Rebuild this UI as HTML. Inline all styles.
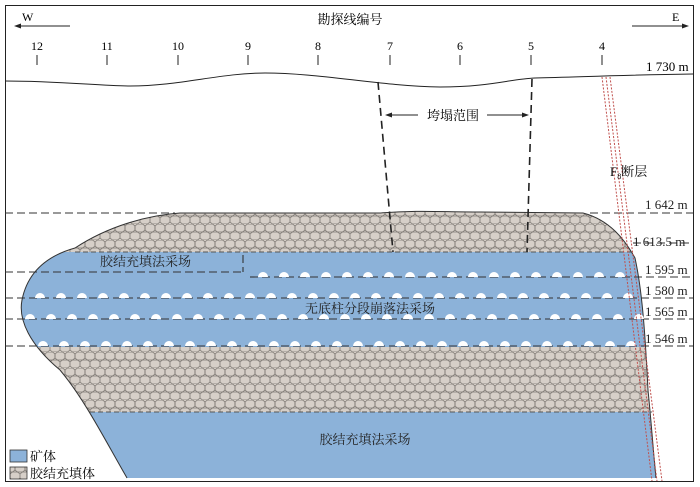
<!DOCTYPE html>
<html><head><meta charset="utf-8"><style>
html,body{margin:0;padding:0;background:#fff;}
svg{display:block;font-family:"Liberation Serif","Noto Serif CJK SC",serif;}
</style></head><body>
<svg width="700" height="487" viewBox="0 0 700 487" xmlns="http://www.w3.org/2000/svg">
<defs>
<pattern id="hex" width="10" height="16" patternUnits="userSpaceOnUse">
<rect width="10" height="16" fill="#d6cfc8"/>
<path d="M0,2 L2.5,0 L7.5,0 L10,2 L10,6 L7.5,8 L2.5,8 L0,6 Z" fill="none" stroke="#7d7873" stroke-width="0.8" transform="translate(-5,0)"/>
<path d="M0,2 L2.5,0 L7.5,0 L10,2 L10,6 L7.5,8 L2.5,8 L0,6 Z" fill="none" stroke="#7d7873" stroke-width="0.8" transform="translate(5,0)"/>
<path d="M0,2 L2.5,0 L7.5,0 L10,2 L10,6 L7.5,8 L2.5,8 L0,6 Z" fill="none" stroke="#7d7873" stroke-width="0.8" transform="translate(0,8)"/>
</pattern>
<clipPath id="ore"><path d="M127,478 C105,440 85,400 60,370 C30,345 18,320 22,300 C28,270 50,255 75,248 C110,225 150,215 180,213 L380,213 C420,210 440,212 480,212 L583,213 C610,220 625,240 635,258 C642,290 645,330 648,390 C652,430 654,460 656,478 Z"/></clipPath>
</defs>
<rect x="5.5" y="5.5" width="688" height="476" fill="none" stroke="#222" stroke-width="1"/>
<text x="350" y="24" font-size="13" text-anchor="middle">勘探线编号</text>
<text x="22" y="21" font-size="12">W</text>
<line x1="18" y1="26" x2="70" y2="26" stroke="#222"/><path d="M14,26 L21,23.5 L21,28.5Z" fill="#222"/>
<text x="672" y="21" font-size="12">E</text>
<line x1="632" y1="26" x2="684" y2="26" stroke="#222"/><path d="M689,26 L682,23.5 L682,28.5Z" fill="#222"/>
<g font-size="12" text-anchor="middle">
<text x="37" y="50">12</text><text x="107" y="50">11</text><text x="178" y="50">10</text><text x="248" y="50">9</text><text x="318" y="50">8</text><text x="390" y="50">7</text><text x="460" y="50">6</text><text x="531" y="50">5</text><text x="602" y="50">4</text>
</g>
<g stroke="#222" stroke-width="1">
<line x1="37" y1="55" x2="37" y2="65"/><line x1="107" y1="55" x2="107" y2="65"/><line x1="178" y1="55" x2="178" y2="65"/><line x1="248" y1="55" x2="248" y2="65"/><line x1="318" y1="55" x2="318" y2="65"/><line x1="390" y1="55" x2="390" y2="65"/><line x1="460" y1="55" x2="460" y2="65"/><line x1="531" y1="55" x2="531" y2="65"/><line x1="602" y1="55" x2="602" y2="65"/>
</g>
<path d="M5,81 C60,81 100,86 130,86 C180,86 220,73 265,73 C320,73 380,86 440,87 C490,87 510,79 535,78 C580,77 620,75 693,74" fill="none" stroke="#222" stroke-width="1"/>
<text x="646" y="71" font-size="13">1 730 m</text>
<g clip-path="url(#ore)">
<rect x="0" y="200" width="700" height="290" fill="url(#hex)"/>
<rect x="0" y="252" width="700" height="95" fill="#8cb2d9"/>
<rect x="0" y="412" width="700" height="80" fill="#8cb2d9"/>
</g>
<path d="M127,478 C105,440 85,400 60,370 C30,345 18,320 22,300 C28,270 50,255 75,248 C110,225 150,215 180,213 L380,213 C420,210 440,212 480,212 L583,213 C610,220 625,240 635,258 C642,290 645,330 648,390 C652,430 654,460 656,478" fill="none" stroke="#333" stroke-width="1"/>
<line x1="90" y1="412" x2="652" y2="412" stroke="#555" stroke-dasharray="5,3"/>
<line x1="75" y1="252" x2="632" y2="252" stroke="#555" stroke-dasharray="5,3"/>
<g stroke="#333" stroke-width="1.1" stroke-dasharray="8,4" fill="none">
<line x1="5" y1="213" x2="175" y2="213"/><line x1="590" y1="213" x2="693" y2="213"/>
<line x1="633" y1="243" x2="693" y2="243"/>
<line x1="5" y1="272" x2="243" y2="272"/><line x1="243" y1="255" x2="243" y2="272"/>
<line x1="250" y1="277" x2="693" y2="277"/>
<line x1="5" y1="298" x2="693" y2="298"/>
<line x1="5" y1="319" x2="693" y2="319"/>
<line x1="5" y1="346" x2="693" y2="346"/>
</g>
<g fill="#fff" stroke="none">
<path d="M258,277a5,5 0 0 1 10,0z M279,277a5,5 0 0 1 10,0z M300,277a5,5 0 0 1 10,0z M321,277a5,5 0 0 1 10,0z M342,277a5,5 0 0 1 10,0z M363,277a5,5 0 0 1 10,0z M384,277a5,5 0 0 1 10,0z M405,277a5,5 0 0 1 10,0z M426,277a5,5 0 0 1 10,0z M447,277a5,5 0 0 1 10,0z M468,277a5,5 0 0 1 10,0z M489,277a5,5 0 0 1 10,0z M510,277a5,5 0 0 1 10,0z M531,277a5,5 0 0 1 10,0z M552,277a5,5 0 0 1 10,0z M573,277a5,5 0 0 1 10,0z M594,277a5,5 0 0 1 10,0z M615,277a5,5 0 0 1 10,0z"/>
<path d="M35,298a5,5 0 0 1 10,0z M56,298a5,5 0 0 1 10,0z M77,298a5,5 0 0 1 10,0z M98,298a5,5 0 0 1 10,0z M119,298a5,5 0 0 1 10,0z M140,298a5,5 0 0 1 10,0z M161,298a5,5 0 0 1 10,0z M182,298a5,5 0 0 1 10,0z M203,298a5,5 0 0 1 10,0z M224,298a5,5 0 0 1 10,0z M245,298a5,5 0 0 1 10,0z M266,298a5,5 0 0 1 10,0z M287,298a5,5 0 0 1 10,0z M308,298a5,5 0 0 1 10,0z M329,298a5,5 0 0 1 10,0z M350,298a5,5 0 0 1 10,0z M371,298a5,5 0 0 1 10,0z M392,298a5,5 0 0 1 10,0z M413,298a5,5 0 0 1 10,0z M434,298a5,5 0 0 1 10,0z M455,298a5,5 0 0 1 10,0z M476,298a5,5 0 0 1 10,0z M497,298a5,5 0 0 1 10,0z M518,298a5,5 0 0 1 10,0z M539,298a5,5 0 0 1 10,0z M560,298a5,5 0 0 1 10,0z M581,298a5,5 0 0 1 10,0z M602,298a5,5 0 0 1 10,0z M623,298a5,5 0 0 1 10,0z"/>
<path d="M25,319a5,5 0 0 1 10,0z M46,319a5,5 0 0 1 10,0z M67,319a5,5 0 0 1 10,0z M88,319a5,5 0 0 1 10,0z M109,319a5,5 0 0 1 10,0z M130,319a5,5 0 0 1 10,0z M151,319a5,5 0 0 1 10,0z M172,319a5,5 0 0 1 10,0z M193,319a5,5 0 0 1 10,0z M214,319a5,5 0 0 1 10,0z M235,319a5,5 0 0 1 10,0z M256,319a5,5 0 0 1 10,0z M277,319a5,5 0 0 1 10,0z M298,319a5,5 0 0 1 10,0z M319,319a5,5 0 0 1 10,0z M340,319a5,5 0 0 1 10,0z M361,319a5,5 0 0 1 10,0z M382,319a5,5 0 0 1 10,0z M403,319a5,5 0 0 1 10,0z M424,319a5,5 0 0 1 10,0z M445,319a5,5 0 0 1 10,0z M466,319a5,5 0 0 1 10,0z M487,319a5,5 0 0 1 10,0z M508,319a5,5 0 0 1 10,0z M529,319a5,5 0 0 1 10,0z M550,319a5,5 0 0 1 10,0z M571,319a5,5 0 0 1 10,0z M592,319a5,5 0 0 1 10,0z M613,319a5,5 0 0 1 10,0z M634,319a5,5 0 0 1 10,0z"/>
<path d="M38,346a5,5 0 0 1 10,0z M59,346a5,5 0 0 1 10,0z M80,346a5,5 0 0 1 10,0z M101,346a5,5 0 0 1 10,0z M122,346a5,5 0 0 1 10,0z M143,346a5,5 0 0 1 10,0z M164,346a5,5 0 0 1 10,0z M185,346a5,5 0 0 1 10,0z M206,346a5,5 0 0 1 10,0z M227,346a5,5 0 0 1 10,0z M248,346a5,5 0 0 1 10,0z M269,346a5,5 0 0 1 10,0z M290,346a5,5 0 0 1 10,0z M311,346a5,5 0 0 1 10,0z M332,346a5,5 0 0 1 10,0z M353,346a5,5 0 0 1 10,0z M374,346a5,5 0 0 1 10,0z M395,346a5,5 0 0 1 10,0z M416,346a5,5 0 0 1 10,0z M437,346a5,5 0 0 1 10,0z M458,346a5,5 0 0 1 10,0z M479,346a5,5 0 0 1 10,0z M500,346a5,5 0 0 1 10,0z M521,346a5,5 0 0 1 10,0z M542,346a5,5 0 0 1 10,0z M563,346a5,5 0 0 1 10,0z M584,346a5,5 0 0 1 10,0z M605,346a5,5 0 0 1 10,0z M626,346a5,5 0 0 1 10,0z"/>
</g>
<g stroke="#222" stroke-width="1.6" stroke-dasharray="8,5">
<line x1="378" y1="82" x2="393" y2="252"/>
<line x1="532" y1="79" x2="527" y2="252"/>
</g>
<line x1="388" y1="115" x2="418" y2="115" stroke="#222"/><line x1="487" y1="115" x2="525" y2="115" stroke="#222"/>
<path d="M385,115 L392,112.5 L392,117.5Z M529,115 L522,112.5 L522,117.5Z" fill="#222"/>
<text x="453" y="120" font-size="13" text-anchor="middle">垮塌范围</text>
<g stroke="#c0504d" stroke-width="1" stroke-dasharray="2,1.5">
<line x1="602" y1="77" x2="652" y2="481"/>
<line x1="606" y1="77" x2="657" y2="481"/>
<line x1="610" y1="77" x2="662" y2="481"/>
</g>
<text x="610" y="176" font-size="13">F<tspan font-size="8" dy="3">8</tspan><tspan dy="-3">断层</tspan></text>
<g font-size="13" fill="#222">
<text x="645" y="209">1 642 m</text>
<text x="633" y="246">1 613.5 m</text>
<text x="645" y="274">1 595 m</text>
<text x="645" y="295">1 580 m</text>
<text x="645" y="316">1 565 m</text>
<text x="645" y="343">1 546 m</text>
</g>
<g font-size="13" fill="#222">
<text x="100" y="266">胶结充填法采场</text>
<text x="370" y="313" text-anchor="middle">无底柱分段崩落法采场</text>
<text x="365" y="444" text-anchor="middle">胶结充填法采场</text>
</g>
<rect x="10" y="450" width="17" height="12" fill="#8cb2d9" stroke="#333" stroke-width="0.8"/>
<text x="30" y="461" font-size="13">矿体</text>
<rect x="10" y="467" width="17" height="12" fill="url(#hex)" stroke="#333" stroke-width="0.8"/>
<text x="30" y="478" font-size="13">胶结充填体</text>
</svg>
</body></html>
